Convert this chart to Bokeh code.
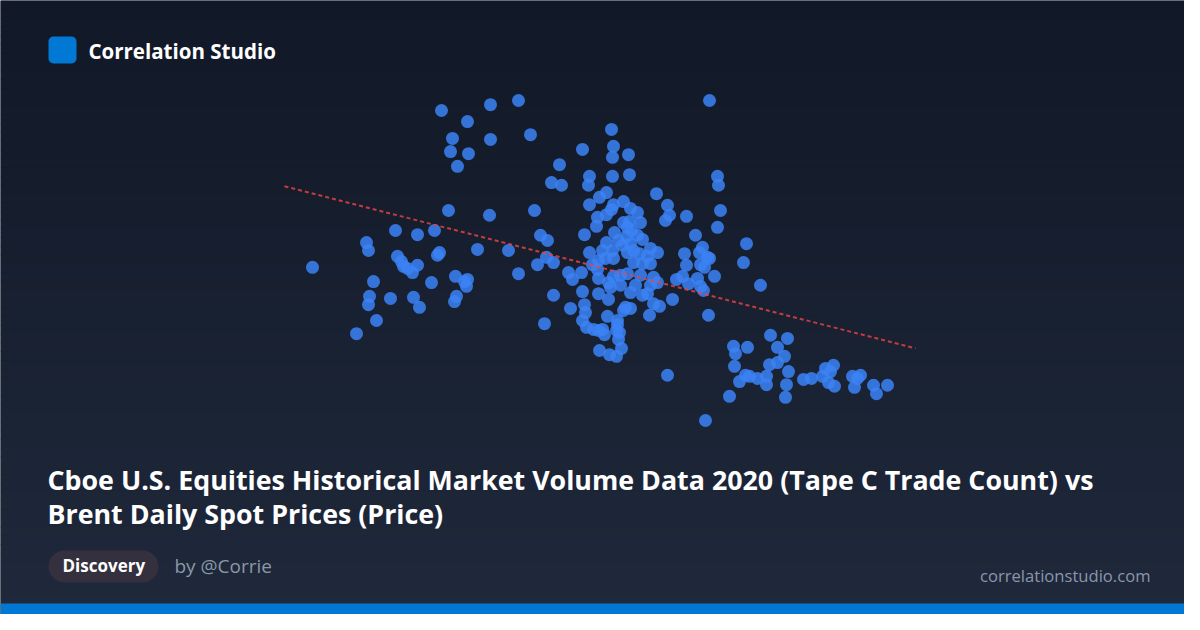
import numpy as np
from bokeh.plotting import figure
from bokeh.models import Range1d, Label, BoxAnnotation
from bokeh.embed import file_html
from bokeh.resources import INLINE

# ---- data: Tape C trade count (millions) vs Brent spot price (USD) ----
trade_count = [
    10.6, 12.8, 13.3, 13.4, 13.65, 13.45, 13.4, 13.8, 14.5, 14.75, 14.85, 15.05, 15.15, 15.35, 15.6, 15.85,
    15.65, 15.95, 15.85, 16.7, 16.55, 16.85, 16.95, 17.05, 17.4, 17.5, 17.6, 17.85, 18.35, 18.4, 17.75, 18.35,
    18.2, 18.3, 17.8, 17.7, 18.85, 19.45, 19.5, 19.5, 20.4, 20.9, 20.9, 21.5, 21.7, 21.85,
    22.0, 22.35, 22.3, 22.65, 22.2, 22.65, 22.55, 22.95, 23.05, 23.4, 23.6, 23.5, 24.05, 24.1, 24.1, 24.2,
    24.2, 24.25, 24.1, 24.3, 24.4, 24.45, 24.45, 24.45, 24.6, 24.85, 24.9, 24.9, 24.65, 24.9, 24.95, 24.85,
    24.8, 24.9, 24.95,
    25.3, 25.55, 25.6, 25.65, 25.6, 26.4, 26.45, 25.65, 25.55, 25.3, 26.15, 26.5, 26.85, 26.15, 26.45, 27.0,
    25.7, 26.35, 26.55, 26.3, 26.85, 27.1, 25.9, 26.5, 26.1, 26.65, 27.5, 27.85, 27.35, 26.65, 27.1, 27.5,
    25.3, 25.1, 25.6, 25.25, 25.65, 26.35, 26.95, 26.35, 27.0, 27.65, 25.65, 25.4, 26.0, 26.75, 26.5, 27.1,
    27.35, 27.5, 27.85, 26.0, 25.5, 25.4, 28.6, 26.25, 26.5, 26.15, 27.65, 27.95, 27.45, 25.35, 25.85, 25.85,
    25.8, 25.95, 25.9, 26.05, 25.45, 25.8, 25.1, 25.2, 27.8, 28.25, 28.35, 28.45,
    28.35, 28.8, 29.1, 29.2, 29.3, 29.3, 29.4, 29.75, 29.85, 29.95, 30.0, 30.0, 30.1, 30.15, 30.2, 30.35,
    30.45, 30.4, 30.25, 30.45, 30.7, 30.85, 30.9, 31.0, 30.85, 32.15, 32.3, 33.0,
    31.45, 31.65, 31.75, 32.35, 31.7, 31.95, 32.25, 32.45, 32.85, 33.3, 33.3, 33.45, 33.5, 33.85, 33.85, 34.2,
    34.35, 34.4, 34.3, 34.25, 35.15, 35.55, 36.1, 36.25, 36.65, 36.5, 36.4, 36.7, 37.6, 38.0, 37.85, 37.7,
    38.65, 38.8, 39.35,
]
brent_price = [
    38.3, 25.7, 43.0, 41.5, 35.6, 32.8, 31.2, 28.2, 32.4, 45.3, 40.4, 39.4, 38.5, 38.1, 37.3, 38.7,
    32.6, 30.7, 44.5, 45.3, 35.4, 40.6, 41.1, 68.1, 49.1, 60.3, 62.8, 57.5, 66.0, 59.9, 36.6, 36.0,
    35.6, 34.7, 32.8, 31.8, 41.7, 48.2, 69.2, 62.6, 41.5, 70.0, 37.1, 63.5, 49.1, 38.8,
    44.4, 43.4, 40.2, 39.2, 27.6, 33.0, 54.4, 57.8, 53.9, 37.3, 36.0, 30.5, 37.3, 60.7, 33.7, 44.5,
    31.2, 29.7, 28.2, 26.9, 53.9, 55.6, 50.2, 41.1, 38.8, 37.9, 36.2, 33.3, 26.5, 26.3, 51.6, 47.8,
    46.1, 39.6, 22.5,
    52.5, 64.5, 59.2, 61.3, 55.6, 59.7, 55.9, 50.2, 49.3, 48.3, 50.8, 49.5, 48.7, 46.8, 47.0, 46.8,
    44.9, 45.9, 45.3, 44.2, 44.4, 43.6, 43.4, 42.8, 42.5, 41.5, 41.9, 41.1, 40.4, 39.2, 39.0, 39.0,
    43.0, 41.5, 41.5, 40.0, 40.0, 41.1, 40.9, 37.1, 36.8, 36.4, 36.6, 35.4, 36.8, 34.9, 33.5, 33.0,
    33.3, 34.9, 35.4, 34.9, 34.5, 32.2, 32.2, 30.7, 30.5, 30.1, 31.4, 30.9, 29.2, 29.0, 28.2, 27.4,
    26.3, 25.9, 24.6, 22.9, 21.7, 21.4, 26.5, 25.5, 52.3, 47.2, 50.1, 48.2,
    17.8, 36.0, 36.6, 40.9, 48.0, 38.7, 35.2, 44.4, 36.2, 41.1, 38.8, 34.7, 42.1, 33.9, 38.3, 40.2,
    40.0, 29.2, 9.2, 70.0, 36.6, 55.6, 53.9, 49.1, 45.9, 39.2, 42.8, 34.9,
    13.8, 23.3, 21.9, 23.1, 19.5, 16.6, 17.8, 17.6, 17.2, 17.6, 16.0, 19.8, 25.4, 23.1, 20.2, 21.4,
    24.8, 18.5, 16.0, 13.6, 17.0, 17.2, 17.6, 19.1, 19.7, 18.5, 16.4, 15.7, 17.6, 17.8, 17.2, 15.5,
    15.9, 14.3, 15.9,
]
trend_x = [9.2, 40.75]
trend_y = [53.7, 22.9]

title_lines = [
    "Cboe U.S. Equities Historical Market Volume Data 2020 (Tape C Trade Count) vs",
    "Brent Daily Spot Prices (Price)",
]
brand = "Correlation Studio"
badge = "Discovery"
author = "by @Corrie"
site = "correlationstudio.com"

FONT = "Open Sans"
W, H = 1184, 614

p = figure(width=W, height=H, output_backend="svg", toolbar_location=None,
           x_range=Range1d(-5.0, 54.2), y_range=Range1d(-27.66, 89.0),
           x_axis_location=None, y_axis_location=None, min_border=0)
p.extra_x_ranges = {"px": Range1d(0, W)}
p.extra_y_ranges = {"px": Range1d(H, 0)}
p.grid.visible = False
p.outline_line_color = None
p.background_fill_color = "#111827"
p.border_fill_color = "#111827"

# background gradient
n = 70
edges = np.linspace(0, H, n + 1)
c0 = np.array([17, 24, 39])
c1 = np.array([31, 41, 59])
cols = []
for i in range(n):
    t = (i + 0.5) / n
    c = (c0 + (c1 - c0) * t).round().astype(int)
    cols.append("#%02x%02x%02x" % tuple(c))
p.quad(left=0, right=W, top=edges[:-1], bottom=edges[1:] + 0.6, fill_color=cols,
       line_color=None, x_range_name="px", y_range_name="px")

# bottom accent bar
p.quad(left=0, right=W, top=[603], bottom=[H], fill_color="#0078d4", line_color=None,
       x_range_name="px", y_range_name="px")

# logo + brand
p.add_layout(BoxAnnotation(left=48, right=76, top=36, bottom=63, x_range_name="px", y_range_name="px",
                           fill_color="#0078d4", fill_alpha=1.0, line_color=None, border_radius=5))
p.add_layout(Label(x=88, y=50, x_range_name="px", y_range_name="px", text=brand, text_font=FONT,
                   text_font_size="20.5px", text_font_style="bold", text_color="#ffffff",
                   text_baseline="alphabetic"))

# scatter + trend
p.scatter(trade_count, brent_price, size=13, fill_color="#3b82f6", fill_alpha=0.85, line_color=None)
p.line(trend_x, trend_y, line_color="#ef4444", line_alpha=0.8, line_width=2, line_dash="4 3")

# title
for i, t in enumerate(title_lines):
    p.add_layout(Label(x=47, y=479 + 34 * i, x_range_name="px", y_range_name="px", text=t,
                       text_font=FONT, text_font_size="26.8px", text_font_style="bold",
                       text_color="#ffffff", text_baseline="alphabetic"))

# badge
p.add_layout(BoxAnnotation(left=48, right=158, top=550, bottom=582, x_range_name="px", y_range_name="px",
                           fill_color="#34303e", fill_alpha=1.0, line_color=None, border_radius=16))
p.add_layout(Label(x=62, y=565, x_range_name="px", y_range_name="px", text=badge, text_font=FONT,
                   text_font_size="17px", text_font_style="bold", text_color="#ffffff",
                   text_baseline="alphabetic"))
p.add_layout(Label(x=174, y=565, x_range_name="px", y_range_name="px", text=author, text_font=FONT,
                   text_font_size="19px", text_color="#8a97ab", text_baseline="alphabetic"))
p.add_layout(Label(x=1150, y=575, x_range_name="px", y_range_name="px", text=site, text_font=FONT,
                   text_font_size="16.6px", text_color="#8a97ab", text_align="right",
                   text_baseline="alphabetic"))

open("out.html", "w").write(file_html(p, INLINE))
